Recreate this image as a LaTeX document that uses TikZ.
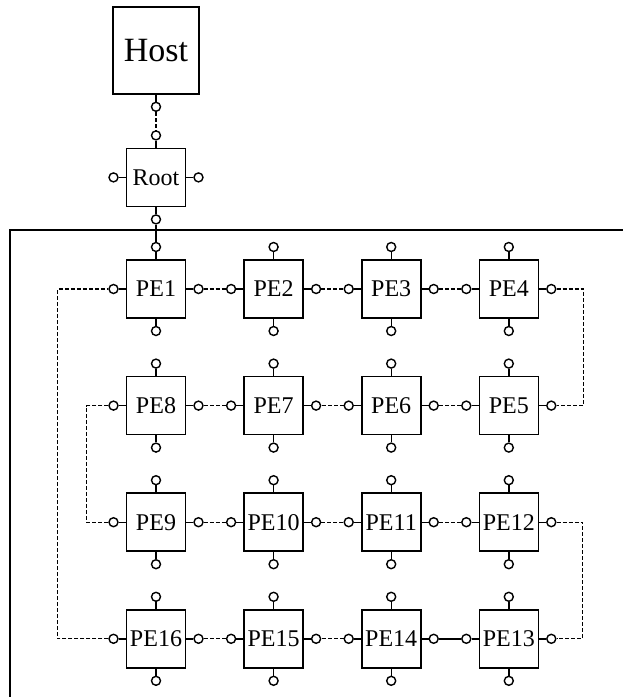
\documentclass[tikz,border=0pt]{standalone}
\usepackage{fontspec}
\setmainfont{Liberation Serif}
\usetikzlibrary{positioning}

\begin{document}
\begin{tikzpicture}[
  x=1pt, y=1pt,
  pe/.style={rectangle, draw, line width=1.6pt,
             minimum width=59pt, minimum height=58pt, inner sep=0pt,
             font=\fontsize{24}{24}\selectfont},
  port/.style={circle, draw, line width=1.4pt, minimum size=9pt, inner sep=0pt},
  stub/.style={line width=1.4pt},
  link/.style={dash pattern=on 4pt off 2pt, line width=1.3pt},
  node distance=57pt and 57pt
]
  \useasboundingbox (0,0) rectangle (623,-697);

  \node[pe] (pe1) at (156,-289) {PE1};
  \node[pe, right=of pe1]  (pe2)  {PE2};
  \node[pe, right=of pe2]  (pe3)  {PE3};
  \node[pe, right=of pe3]  (pe4)  {PE4};
  \node[pe, below=of pe1]  (pe8)  {PE8};
  \node[pe, right=of pe8]  (pe7)  {PE7};
  \node[pe, right=of pe7]  (pe6)  {PE6};
  \node[pe, right=of pe6]  (pe5)  {PE5};
  \node[pe, below=of pe8]  (pe9)  {PE9};
  \node[pe, right=of pe9]  (pe10) {PE10};
  \node[pe, right=of pe10] (pe11) {PE11};
  \node[pe, right=of pe11] (pe12) {PE12};
  \node[pe, below=of pe9]  (pe16) {PE16};
  \node[pe, right=of pe16] (pe15) {PE15};
  \node[pe, right=of pe15] (pe14) {PE14};
  \node[pe, right=of pe14] (pe13) {PE13};
  \node[pe, above=52pt of pe1, font=\fontsize{24}{24}\selectfont] (root) {Root};
  \node[pe, above=53pt of root, minimum width=86pt, minimum height=87pt,
        font=\fontsize{34}{34}\selectfont] (host) {Host};

  % ports on every box
  \foreach \n in {root,pe1,pe2,pe3,pe4,pe5,pe6,pe7,pe8,pe9,pe10,pe11,pe12,pe13,pe14,pe15,pe16} {
    \node[port, left=7pt of \n.west]   (\n-w) {};
    \node[port, right=7pt of \n.east]  (\n-e) {};
    \node[port, above=7pt of \n.north] (\n-n) {};
    \node[port, below=7pt of \n.south] (\n-s) {};
    \draw[stub] (\n-w) -- (\n.west);
    \draw[stub] (\n-e) -- (\n.east);
    \draw[stub] (\n-n) -- (\n.north);
    \draw[stub] (\n-s) -- (\n.south);
  }
  \node[port, below=7pt of host.south] (host-s) {};
  \draw[stub] (host-s) -- (host.south);

  % frame of the array
  \draw[line width=1.6pt] (10,-697) |- (623,-230);

  \draw[link] (host-s) -- (root-n);
  \draw[stub] (root-s) -- (pe1-n);

  \draw[link] (pe1-e)  -- (pe2-w);
  \draw[link] (pe2-e)  -- (pe3-w);
  \draw[link] (pe3-e)  -- (pe4-w);
  \draw[link] (pe4-e)  -- ++(32,0) |- (pe5-e);
  \draw[link] (pe5-w)  -- (pe6-e);
  \draw[link] (pe6-w)  -- (pe7-e);
  \draw[link] (pe7-w)  -- (pe8-e);
  \draw[link] (pe8-w)  -- ++(-27,0) |- (pe9-w);
  \draw[link] (pe9-e)  -- (pe10-w);
  \draw[link] (pe10-e) -- (pe11-w);
  \draw[link] (pe11-e) -- (pe12-w);
  \draw[link] (pe12-e) -- ++(31,0) |- (pe13-e);
  \draw[stub] (pe13-w) -- (pe14-e);
  \draw[link] (pe14-w) -- (pe15-e);
  \draw[link] (pe15-w) -- (pe16-e);
  \draw[link] (pe16-w) -- ++(-56,0) |- (pe1-w);

\end{tikzpicture}
\end{document}
